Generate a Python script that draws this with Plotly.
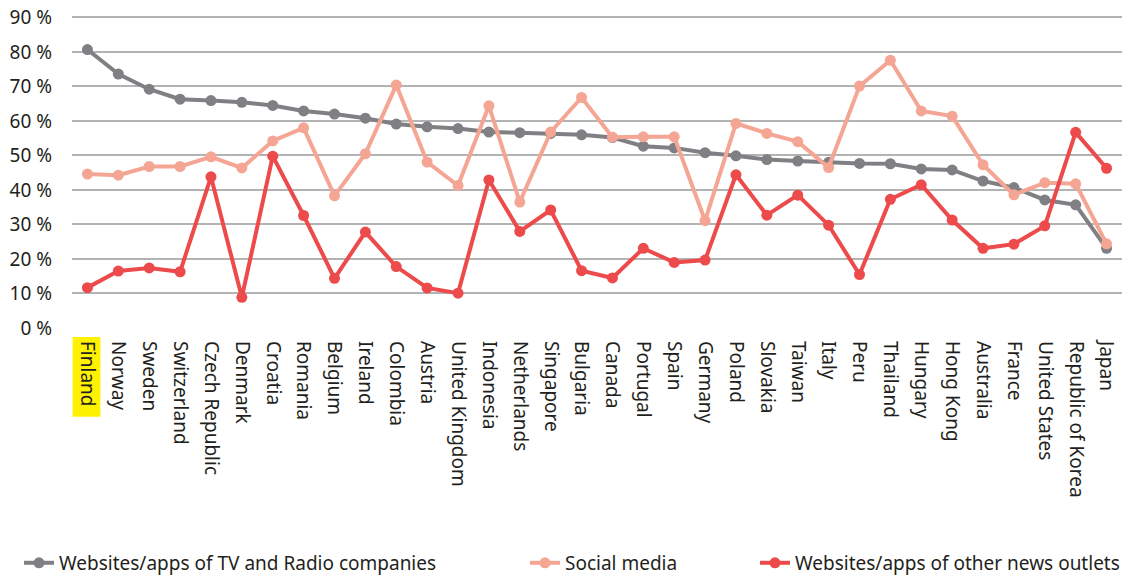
import plotly.graph_objects as go

countries = [
    "Finland", "Norway", "Sweden", "Switzerland", "Czech Republic", "Denmark",
    "Croatia", "Romania", "Belgium", "Ireland", "Colombia", "Austria",
    "United Kingdom", "Indonesia", "Netherlands", "Singapore", "Bulgaria",
    "Canada", "Portugal", "Spain", "Germany", "Poland", "Slovakia", "Taiwan",
    "Italy", "Peru", "Thailand", "Hungary", "Hong Kong", "Australia", "France",
    "United States", "Republic of Korea", "Japan",
]

tv_radio = [
    80.7, 73.6, 69.2, 66.3, 65.9, 65.4, 64.5, 62.9, 62.0, 60.8, 59.1, 58.3,
    57.8, 56.8, 56.6, 56.4, 56.0, 55.2, 52.7, 52.2, 50.8, 49.9, 48.8, 48.4,
    48.0, 47.7, 47.6, 46.1, 45.8, 42.6, 40.7, 37.1, 35.7, 23.1,
]

social_media = [
    44.6, 44.3, 46.8, 46.8, 49.6, 46.4, 54.2, 58.0, 38.3, 50.5, 70.4, 48.1,
    41.3, 64.4, 36.5, 56.8, 66.8, 55.3, 55.4, 55.4, 31.1, 59.3, 56.4, 54.0,
    46.5, 70.1, 77.6, 62.9, 61.4, 47.3, 38.6, 42.1, 41.8, 24.4,
]

other_news = [
    11.7, 16.5, 17.4, 16.3, 43.8, 8.9, 49.8, 32.6, 14.4, 27.8, 17.8, 11.6,
    10.1, 42.9, 28.0, 34.2, 16.6, 14.5, 23.1, 19.0, 19.7, 44.4, 32.7, 38.5,
    29.8, 15.5, 37.3, 41.5, 31.3, 23.1, 24.3, 29.6, 56.7, 46.3,
]

y_ticks = [0, 10, 20, 30, 40, 50, 60, 70, 80, 90]
y_labels = [f"{v} %" for v in y_ticks]

font_family = "'Noto Sans', sans-serif"
text_color = "#231f20"

# the page body keeps its default 8px margin, so the figure is 8px smaller
fig_w, fig_h = 1128, 568

series = [
    ("Websites/apps of TV and Radio companies", tv_radio, "#808084", "legend", 11),
    ("Social media", social_media, "#f5a594", "legend2", 517),
    ("Websites/apps of other news outlets", other_news, "#ec4a4b", "legend3", 747),
]

fig = go.Figure()

for name, values, color, legend, _ in series:
    fig.add_trace(go.Scatter(
        x=countries,
        y=values,
        name=name,
        mode="lines+markers",
        line=dict(color=color, width=4),
        marker=dict(color=color, size=11),
        legend=legend,
    ))

# Yellow highlight behind the Finland tick label
fig.add_shape(
    type="rect",
    xref="x", yref="paper",
    x0=-0.48, x1=0.42,
    y0=-0.283, y1=-0.029,
    fillcolor="#fff200",
    line=dict(width=0),
    layer="below",
)

legend_style = dict(
    orientation="h",
    xref="container",
    yref="container",
    yanchor="middle",
    y=0.023,
    xanchor="left",
    font=dict(family=font_family, size=19, color=text_color),
    bgcolor="rgba(0,0,0,0)",
    itemwidth=30,
)

legends = {}
for _, _, _, legend, left_px in series:
    legends[legend] = dict(x=left_px / fig_w, **legend_style)

# y range runs a little past 90 so the top gridline is drawn
fig.update_layout(
    width=fig_w,
    height=fig_h,
    margin=dict(l=64, r=14, t=5.5, b=248),
    paper_bgcolor="white",
    plot_bgcolor="white",
    font=dict(family=font_family, size=19, color=text_color),
    showlegend=True,
    **legends,
    xaxis=dict(
        type="category",
        range=[-0.5, len(countries) - 0.5],
        tickangle=90,
        showgrid=False,
        showline=False,
        ticks="",
        ticklabelstandoff=12,
        automargin=False,
        tickfont=dict(family=font_family, size=19, color=text_color),
    ),
    yaxis=dict(
        range=[0, 91],
        tickvals=y_ticks,
        ticktext=y_labels,
        showgrid=True,
        gridcolor="#b3b3b3",
        gridwidth=1.5,
        zeroline=False,
        showline=False,
        ticks="",
        ticklabelstandoff=19,
        ticklabeloverflow="allow",
        automargin=False,
        tickfont=dict(family=font_family, size=19, color=text_color),
    ),
)

fig.write_html("out.html")
